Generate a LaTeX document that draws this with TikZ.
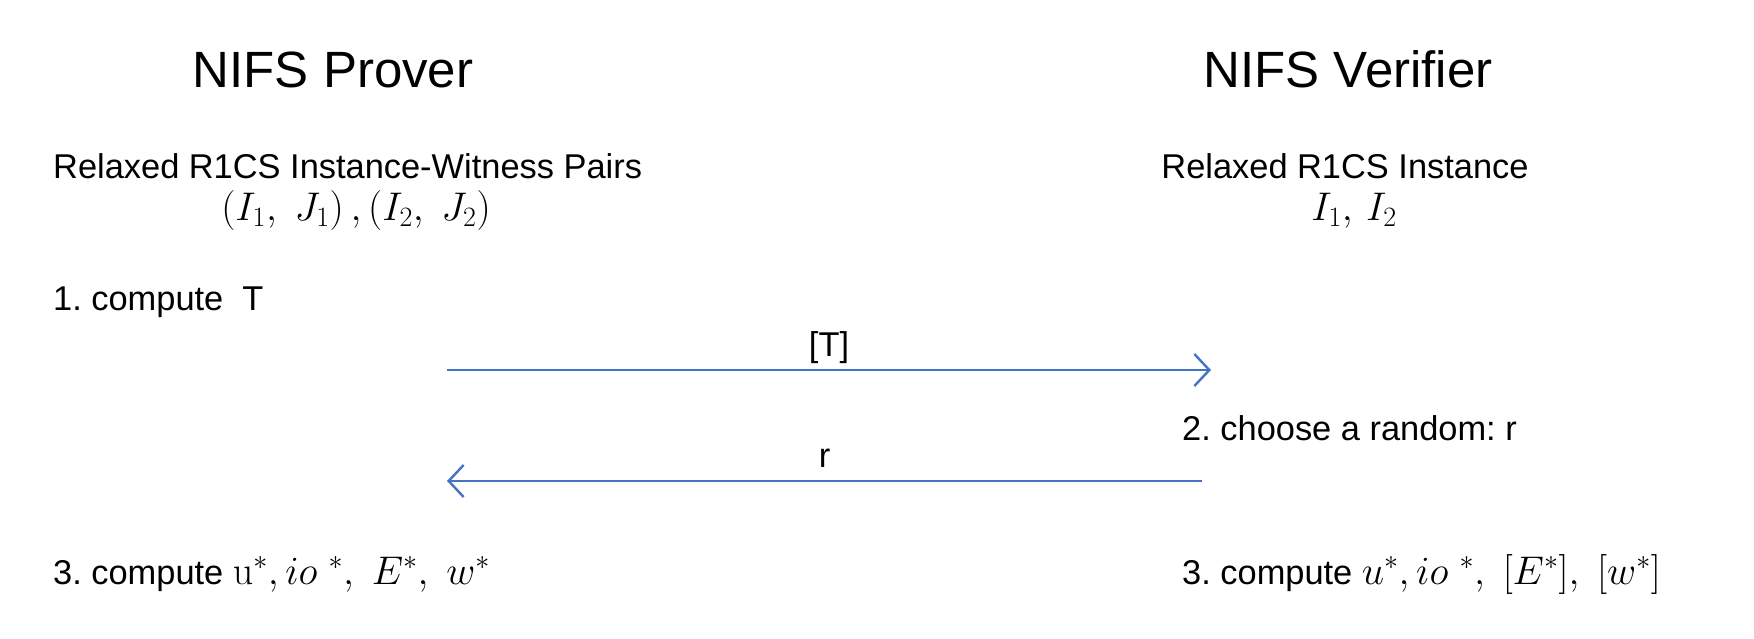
\RequirePackage{fix-cm}
\documentclass[tikz,border=0pt]{standalone}
\usepackage[no-math]{fontspec}
\setmainfont{Liberation Sans}
\usetikzlibrary{arrows.meta}
\definecolor{arrowblue}{HTML}{4472C4}
\newcommand{\mymth}[1]{{\fontsize{40}{48}\selectfont$#1$}}
\frenchspacing
\begin{document}
\begin{tikzpicture}[x=1pt,y=-1pt,
  txt/.style={inner sep=0pt,font=\fontsize{34.4}{40}\selectfont},
  ttl/.style={inner sep=0pt,font=\fontsize{51}{60}\selectfont},
  msg/.style={draw=arrowblue,line width=2.4pt,-{Straight Barb[length=15pt,width=32pt,line width=2.4pt]}}]
\useasboundingbox[fill=white] (0,0) rectangle (1754,638);
\node[ttl,anchor=base] (tp) at (333,87) {NIFS Prover};
\node[ttl,anchor=base] (tv) at (1348,87) {NIFS Verifier};
\node[txt,anchor=base west] (pairs) at (53,178) {Relaxed R1CS Instance-Witness Pairs};
\node[txt,anchor=base] (pairsm) at (356,220) {\mymth{(I_1,\ J_1)\,,(I_2,\ J_2)}};
\node[txt,anchor=base] (inst) at (1345,178) {Relaxed R1CS Instance};
\node[txt,anchor=base] (instm) at (1354,220) {\mymth{I_1,\,I_2}};
\node[txt,anchor=base west] (s1) at (53,310) {1. compute\ \ T};
\node[txt,anchor=base west] (s2) at (1182,440) {2. choose a random: r};
\node[txt,anchor=base west] (s3p) at (53,584) {3. compute \mymth{\mathrm{u}^*,io\ ^*,\ E^*,\ w^*}};
\node[txt,anchor=base west] (s3v) at (1182,584) {3. compute \mymth{u^*,io\ ^*,\ [E^*],\ [w^*]}};
\coordinate (a1s) at (447,370);
\coordinate (a1e) at (1211,370);
\coordinate (a2s) at (1202,481);
\coordinate (a2e) at (447,481);
\draw[msg] (a1s) -- node[txt,above=14pt,anchor=base] (lT) {[T]} (a1e);
\draw[msg] (a2s) -- node[txt,above=14pt,anchor=base] (lr) {r} (a2e);
\end{tikzpicture}
\end{document}
